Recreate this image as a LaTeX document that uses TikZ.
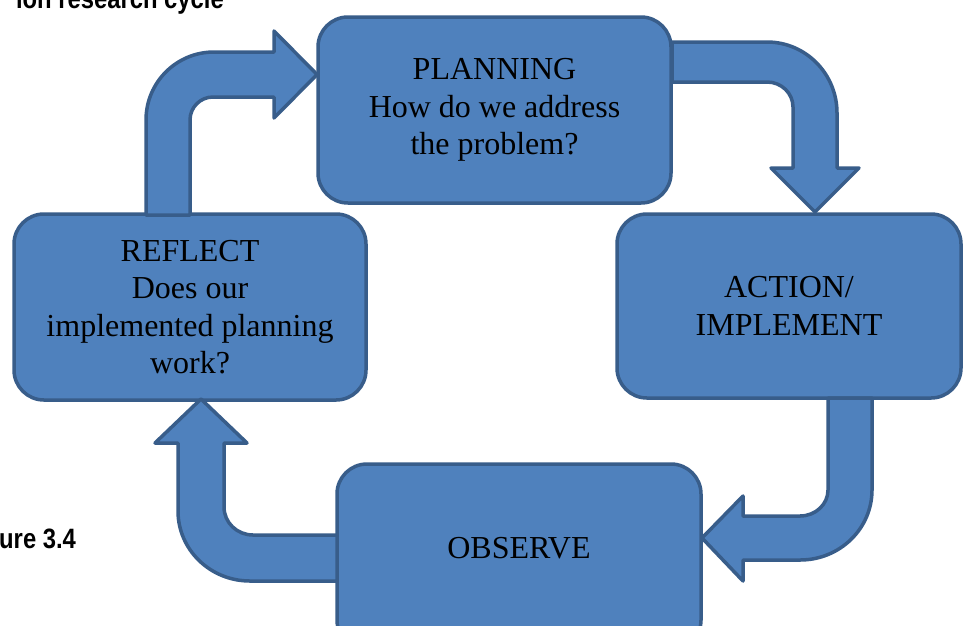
\documentclass[tikz,border=0pt]{standalone}
\usepackage{fontspec}
\setmainfont{Liberation Serif}
\newfontfamily\captionsans{Liberation Sans}[FakeStretch=0.85]
\definecolor{boxfill}{HTML}{4F81BD}
\definecolor{boxline}{HTML}{385D8A}
\tikzset{
  stage/.style={draw=boxline, fill=boxfill, line width=3.5pt, rounded corners=30pt,
    align=center, font=\fontsize{32}{37.5}\selectfont, text=black, inner sep=0pt},
  blockarrow/.style={draw=boxline, fill=boxfill, line width=3.5pt, line join=round},
  captiontext/.style={font=\captionsans\bfseries\fontsize{28}{32}\selectfont, inner sep=0pt, text=black}
}
\begin{document}
\begin{tikzpicture}[x=1pt,y=-1pt]
\clip (0,0) rectangle (963,625);
\fill[white] (0,0) rectangle (963,625);

% captions (cut off by the picture edge, as in the reference)
\node[captiontext, anchor=base east] (title) at (224,8) {ion research cycle};
\node[captiontext, anchor=base west] (figlabel) at (-1,548) {ure 3.4};

% stages
\node[stage, minimum width=353pt, minimum height=186pt] (planning) at (494.5,110)
  {PLANNING\\How do we address\\the problem?};
\node[stage, minimum width=352pt, minimum height=186pt] (reflect) at (190,307)
  {REFLECT\\Does our\\implemented planning\\work?};
\node[stage, minimum width=344pt, minimum height=184pt] (action) at (789,306)
  {ACTION/\\IMPLEMENT};
\node[stage, minimum width=364pt, minimum height=186pt, text height=21pt, text depth=19pt] (observe) at (519,557)
  {OBSERVE};

% bent block arrows
% reflect -> planning
\draw[blockarrow] (146,215) -- (146,120) .. controls (146,82.4) and (176.4,52) .. (214,52)
  -- (274,52) -- (274,31) -- (317,74.5) -- (274,118) -- (274,97) -- (213,97)
  .. controls (200.3,97) and (190,107.3) .. (190,120) -- (190,215) -- cycle;
% planning -> action
\draw[blockarrow] (672,42) -- (767,42) .. controls (805.7,42) and (837,73.8) .. (837,113)
  -- (837,168) -- (859,168) -- (815,212) -- (771,168) -- (793,168) -- (793,107)
  .. controls (793,93.2) and (781.4,82) .. (767,82) -- (672,82) -- cycle;
% action -> observe
\draw[blockarrow] (828,398) -- (828,490) .. controls (828,504.4) and (815.5,516) .. (800,516)
  -- (743,516) -- (743,496) -- (702,538) -- (743,581) -- (743,560) -- (800,560)
  .. controls (839.8,560) and (872,528.7) .. (872,490) -- (872,398) -- cycle;
% observe -> reflect
\draw[blockarrow] (337,535) -- (253,535) .. controls (237,535) and (224,522.5) .. (224,507)
  -- (224,443) -- (247,443) -- (201,399) -- (155,443) -- (178,443) -- (178,511)
  .. controls (178,549.7) and (210.2,581) .. (250,581) -- (337,581) -- cycle;
\end{tikzpicture}
\end{document}
